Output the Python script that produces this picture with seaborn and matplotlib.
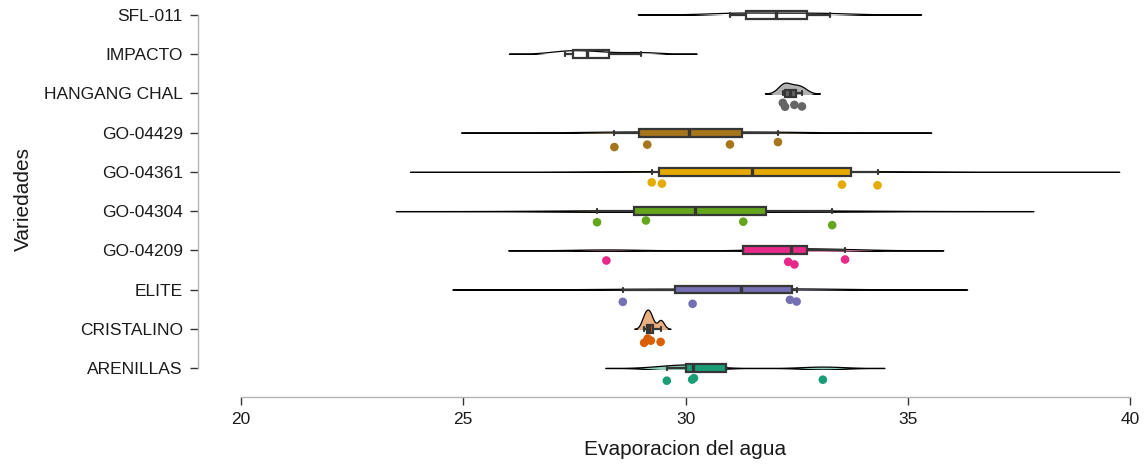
import numpy as np
import pandas as pd
import matplotlib
matplotlib.use("Agg")
import matplotlib.pyplot as plt
from matplotlib.patches import Rectangle
import seaborn as sns

# ---------------- data ----------------
varieties = ["SFL-011", "IMPACTO", "HANGANG CHAL", "GO-04429", "GO-04361",
             "GO-04304", "GO-04209", "ELITE", "CRISTALINO", "ARENILLAS"]

sfl_011 = [31.01, 31.49, 32.57, 33.24]
impacto = [27.29, 27.52, 28.04, 29.01]
hangang_chal = [32.19, 32.24, 32.45, 32.62]
go_04429 = [28.40, 29.14, 31.00, 32.08]
go_04361 = [29.24, 29.47, 33.52, 34.32]
go_04304 = [28.01, 29.11, 31.30, 33.30]
go_04209 = [28.22, 32.31, 32.45, 33.59]
elite = [28.59, 30.16, 32.35, 32.50]
cristalino = [29.07, 29.15, 29.22, 29.44]
arenillas = [29.58, 30.15, 30.19, 33.09]

values = [sfl_011, impacto, hangang_chal, go_04429, go_04361,
          go_04304, go_04209, elite, cristalino, arenillas]

# Dark2 colours (8) – the last two varieties have no colour
colors = ["none", "none", "#666666", "#a6761d", "#e6ab02",
          "#66a61e", "#e7298a", "#7570b3", "#d95f02", "#1b9e77"]

x_ticks = [20, 25, 30, 35, 40]

df = pd.DataFrame({
    "Variedades": np.repeat(varieties, [len(v) for v in values]),
    "Evaporacion": np.concatenate(values),
})

pal = {v: ("white" if c == "none" else c) for v, c in zip(varieties, colors)}
uncoloured = [v for v, c in zip(varieties, colors) if c == "none"]


def nrd0(kde):
    x = np.asarray(kde.dataset).ravel()
    sd = x.std(ddof=1)
    q75, q25 = np.percentile(x, [75, 25])
    lo = min(sd, (q75 - q25) / 1.34)
    return 0.9 * lo * len(x) ** (-0.2) / sd


# ---------------- figure ----------------
sns.set_theme(style="ticks")
plt.rcParams["font.family"] = ["Liberation Sans", "DejaVu Sans"]

W, H = 1145, 466
fig = plt.figure(figsize=(W / 100, H / 100), dpi=100)
ax = fig.add_axes([241 / W, (H - 397.4) / H, (1130 - 241) / W, 397.3 / H])

# clouds (half violins)
n0 = len(ax.collections)
sns.violinplot(data=df, x="Evaporacion", y="Variedades", hue="Variedades",
               order=varieties, hue_order=varieties, palette=pal,
               inner=None, density_norm="area", common_norm=True,
               cut=3, bw_method=nrd0,
               width=0.98, linewidth=0.9, linecolor="black", saturation=1,
               legend=False, ax=ax)
for coll in ax.collections[n0:]:
    verts = np.concatenate([p.vertices for p in coll.get_paths()])
    yc = np.round(verts[:, 1].mean())
    rect = Rectangle((0, yc - 1), 100, 1.015, transform=ax.transData)
    coll.set_clip_path(rect)
    fc = np.array(coll.get_facecolor())
    if len(fc) and np.allclose(fc[0, :3], 1):
        coll.set_facecolor("none")
    else:
        fc[:, 3] = 0.5
        coll.set_facecolor(fc)
    coll.set_edgecolor("black")
    coll.set_zorder(1)

# boxes
p0 = len(ax.patches)
sns.boxplot(data=df, x="Evaporacion", y="Variedades", hue="Variedades",
            order=varieties, hue_order=varieties, palette=pal,
            width=0.2, linewidth=1.6, linecolor="#363636", showfliers=False,
            medianprops={"linewidth": 2.4}, saturation=1, legend=False, ax=ax)
for p in ax.patches[p0:]:
    fc = p.get_facecolor()
    if np.allclose(fc[:3], 1):
        p.set_facecolor("none")

# rain
np.random.seed(7)
rain = df[~df["Variedades"].isin(uncoloured)]
n1 = len(ax.collections)
sns.stripplot(data=rain, x="Evaporacion", y="Variedades", hue="Variedades",
              order=varieties, hue_order=varieties, palette=pal,
              jitter=0.07, size=6.2, linewidth=0, legend=False, ax=ax)
for coll in ax.collections[n1:]:
    off = np.array(coll.get_offsets())
    if len(off):
        off[:, 1] += 0.3
        coll.set_offsets(off)
    coll.set_zorder(4)

# axes styling
ax.set_xlim(20, 40)
ax.set_ylim(9.75, -0.38)
ax.set_xticks(x_ticks)
ax.set_xticklabels([str(t) for t in x_ticks])
ax.set_yticks(range(len(varieties)))
ax.set_yticklabels(varieties)

for s in ["top", "right"]:
    ax.spines[s].set_visible(False)
ax.spines["left"].set_position(("outward", 31))
ax.spines["left"].set_bounds(0, len(varieties) - 1)
ax.spines["bottom"].set_bounds(20, 40)
for s in ["left", "bottom"]:
    ax.spines[s].set_color("#b3b3b3")
    ax.spines[s].set_linewidth(1.0)

ax.tick_params(axis="both", length=5.8, width=1, color="#333333",
               labelsize=12.5, labelcolor="#1a1a1a", pad=5)

ax.set_xlabel("Evaporacion del agua", fontsize=15, color="#1a1a1a", labelpad=9)
ax.set_ylabel("Variedades", fontsize=15, color="#1a1a1a", labelpad=8)

fig.savefig("out.png", dpi=100)
